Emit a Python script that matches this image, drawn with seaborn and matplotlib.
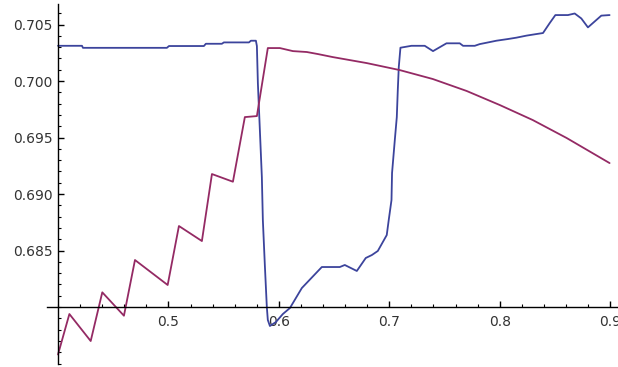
import pandas as pd
import seaborn as sns
import matplotlib.pyplot as plt
from matplotlib.ticker import FixedLocator, MultipleLocator, FormatStrFormatter

sns.set_theme(style="white")
plt.rcParams['font.family'] = ['DejaVu Sans']

# serie blu
blue_x = [0.400, 0.4217, 0.4226, 0.4986, 0.5005, 0.5321, 0.5339, 0.5484, 0.5502, 0.5729,
          0.5747, 0.5792, 0.5801, 0.5810, 0.5828, 0.5846, 0.5855, 0.5873, 0.5891, 0.5900,
          0.5919, 0.5973, 0.6036, 0.6100, 0.6127, 0.6208, 0.6389, 0.6552, 0.6597, 0.6706,
          0.6787, 0.6842, 0.6896, 0.6977, 0.6995, 0.7020, 0.7025, 0.7050, 0.7068, 0.7077,
          0.7086, 0.7101, 0.7201, 0.7321, 0.7396, 0.7518, 0.7638, 0.7668, 0.7774, 0.7819,
          0.7880, 0.7970, 0.8075, 0.8151, 0.8242, 0.8332, 0.8392, 0.8452, 0.8504, 0.8618,
          0.8679, 0.8739, 0.8799, 0.8920, 0.8995]
blue_y = [0.70312, 0.70312, 0.70294, 0.70294, 0.70310, 0.70310, 0.70330, 0.70330, 0.70342, 0.70342,
          0.70357, 0.70357, 0.70310, 0.69980, 0.69566, 0.69150, 0.68770, 0.68372, 0.68000, 0.67885,
          0.67832, 0.67867, 0.67938, 0.67991, 0.68035, 0.68168, 0.68354, 0.68354, 0.68372, 0.68319,
          0.68434, 0.68460, 0.68496, 0.68637, 0.68770, 0.68947, 0.69186, 0.69478, 0.69681, 0.69920,
          0.70124, 0.70295, 0.70312, 0.70312, 0.70265, 0.70334, 0.70334, 0.70312, 0.70312, 0.70327,
          0.70339, 0.70357, 0.70372, 0.70384, 0.70402, 0.70416, 0.70425, 0.70512, 0.70584, 0.70584,
          0.70598, 0.70554, 0.70475, 0.70579, 0.70584]

# serie viola
purple_x = [0.400, 0.4103, 0.4296, 0.4401, 0.4597, 0.4697, 0.4993, 0.5095, 0.5303, 0.5394,
            0.5584, 0.5692, 0.5801, 0.5900, 0.6009, 0.6127, 0.6253, 0.6353, 0.6489, 0.6796,
            0.7095, 0.7394, 0.7701, 0.8000, 0.8299, 0.8606, 0.8995]
purple_y = [0.6758, 0.67938, 0.67699, 0.68130, 0.67923, 0.68416, 0.68195, 0.68717, 0.68584, 0.69177,
            0.69109, 0.69681, 0.69690, 0.70292, 0.70292, 0.70265, 0.70257, 0.70239, 0.70212, 0.70159,
            0.70097, 0.70018, 0.69912, 0.69788, 0.69655, 0.69496, 0.69274]

x_major = [0.5, 0.6, 0.7, 0.8, 0.9]
y_major = [0.685, 0.690, 0.695, 0.700, 0.705]

fig = plt.figure(figsize=(6.18, 3.67), dpi=100)
ax = fig.add_axes([0.076, 0.0095, 0.922, 0.979])

df_blue = pd.DataFrame({"x": blue_x, "y": blue_y})
df_purple = pd.DataFrame({"x": purple_x, "y": purple_y})
sns.lineplot(data=df_blue, x="x", y="y", ax=ax, color="#3c449c", lw=1.3,
             sort=False, estimator=None)
sns.lineplot(data=df_purple, x="x", y="y", ax=ax, color="#942a64", lw=1.3,
             sort=False, estimator=None)

ax.set_xlim(0.39, 0.906)
ax.set_ylim(0.675, 0.7068)
ax.set_xlabel("")
ax.set_ylabel("")

# assi stile Mathematica: si incrociano in (0.4, 0.68)
ax.spines['left'].set_position(('data', 0.4))
ax.spines['bottom'].set_position(('data', 0.68))
ax.spines['top'].set_visible(False)
ax.spines['right'].set_visible(False)
for s in ['left', 'bottom']:
    ax.spines[s].set_color('black')
    ax.spines[s].set_linewidth(1.0)

ax.xaxis.set_major_locator(FixedLocator(x_major))
ax.xaxis.set_minor_locator(MultipleLocator(0.02))
ax.yaxis.set_major_locator(FixedLocator(y_major))
ax.yaxis.set_minor_locator(MultipleLocator(0.001))
ax.xaxis.set_major_formatter(FormatStrFormatter('%.1f'))
ax.yaxis.set_major_formatter(FormatStrFormatter('%.3f'))

ax.tick_params(which='major', direction='in', length=4, width=1, color='black',
               labelsize=10, labelcolor='#333333')
ax.tick_params(which='minor', direction='in', length=2, width=0.8, color='black')
ax.tick_params(axis='x', which='major', pad=6)
ax.tick_params(axis='y', which='major', pad=4)
ax.tick_params(bottom=True, left=True, which='both')

plt.savefig("out.png", dpi=100)
plt.close()
